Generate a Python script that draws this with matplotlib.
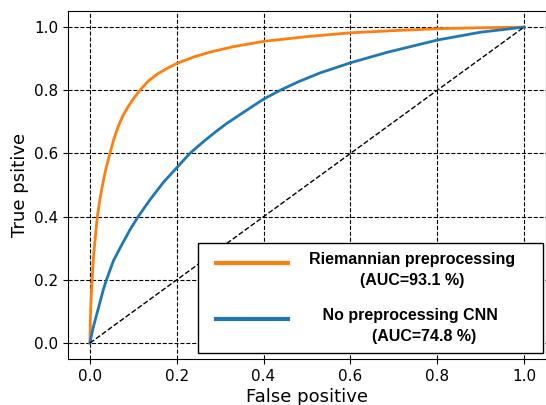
import matplotlib
matplotlib.use('Agg')
import matplotlib.pyplot as plt

# ROC curves
fpr_riem = [0, 0.001, 0.003, 0.005, 0.008, 0.012, 0.017, 0.023, 0.029, 0.036, 0.046,
            0.055, 0.065, 0.076, 0.088, 0.1, 0.115, 0.135, 0.157, 0.18, 0.2, 0.24,
            0.28, 0.33, 0.4, 0.5, 0.6, 0.7, 0.8, 0.9, 1.0]
tpr_riem = [0, 0.08, 0.15, 0.2, 0.27, 0.33, 0.4, 0.455, 0.5, 0.547, 0.6,
            0.645, 0.685, 0.72, 0.748, 0.773, 0.8, 0.83, 0.853, 0.871, 0.885, 0.906,
            0.922, 0.938, 0.955, 0.970, 0.982, 0.989, 0.995, 0.998, 1.0]

fpr_cnn = [0, 0.002, 0.008, 0.019, 0.031, 0.038, 0.054, 0.069, 0.092, 0.111, 0.138,
           0.17, 0.2, 0.23, 0.261, 0.288, 0.315, 0.361, 0.4, 0.438, 0.48, 0.53,
           0.6, 0.684, 0.8, 0.9, 1.0]
tpr_cnn = [0, 0.015, 0.052, 0.108, 0.17, 0.2, 0.26, 0.3, 0.358, 0.4, 0.453,
           0.51, 0.555, 0.6, 0.637, 0.667, 0.695, 0.737, 0.772, 0.8, 0.827, 0.855,
           0.887, 0.92, 0.959, 0.984, 1.0]

label_riem = "Riemannian preprocessing\n(AUC=93.1 %)"
label_cnn = "   No preprocessing CNN\n" + " " * 14 + "(AUC=74.8 %)"

fig = plt.figure(figsize=(5.46, 4.05), dpi=100)
ax = fig.add_axes([0.125, 0.114, 0.8744, 0.858])

ax.plot(fpr_riem, tpr_riem, color='#ff7f0e', lw=2, label=label_riem)
ax.plot(fpr_cnn, tpr_cnn, color='#1f77b4', lw=2, label=label_cnn)
ax.plot([0, 1], [0, 1], 'k--', lw=1)

ax.grid(True, color='k', linestyle='--', lw=0.8)
ax.tick_params(labelsize=11)
ax.set_xlabel('False positive', fontsize=13, labelpad=3)
ax.set_ylabel('True psitive', fontsize=13)
ax.set_xticks([0, 0.2, 0.4, 0.6, 0.8, 1.0])
ax.set_yticks([0, 0.2, 0.4, 0.6, 0.8, 1.0])

fs = 11.5
leg = ax.legend(loc='lower left', bbox_to_anchor=(0.2717, 0.0167, 0.7227, 0.3),
                mode='expand', borderaxespad=0,
                prop={'family': 'Liberation Sans', 'weight': 'bold', 'size': fs},
                handlelength=5.1, handletextpad=1.31, borderpad=0.55, labelspacing=1.2,
                fancybox=False, framealpha=1, edgecolor='k')
leg.get_frame().set_linewidth(1)
for t in leg.get_texts():
    t.set_linespacing(1.55)
leg.get_texts()[0].set_multialignment('center')
# handle starts a bit right of the frame and sits at the first text line
for h in leg.legend_handles:
    h.set_linewidth(3)
    xd = h.get_xdata()
    yd = h.get_ydata()
    h.set_xdata([xd[0] + 6.8, xd[-1]])
    h.set_ydata([yd[0] + 5.5, yd[-1] + 5.5])

fig.savefig('out.png', dpi=100)
